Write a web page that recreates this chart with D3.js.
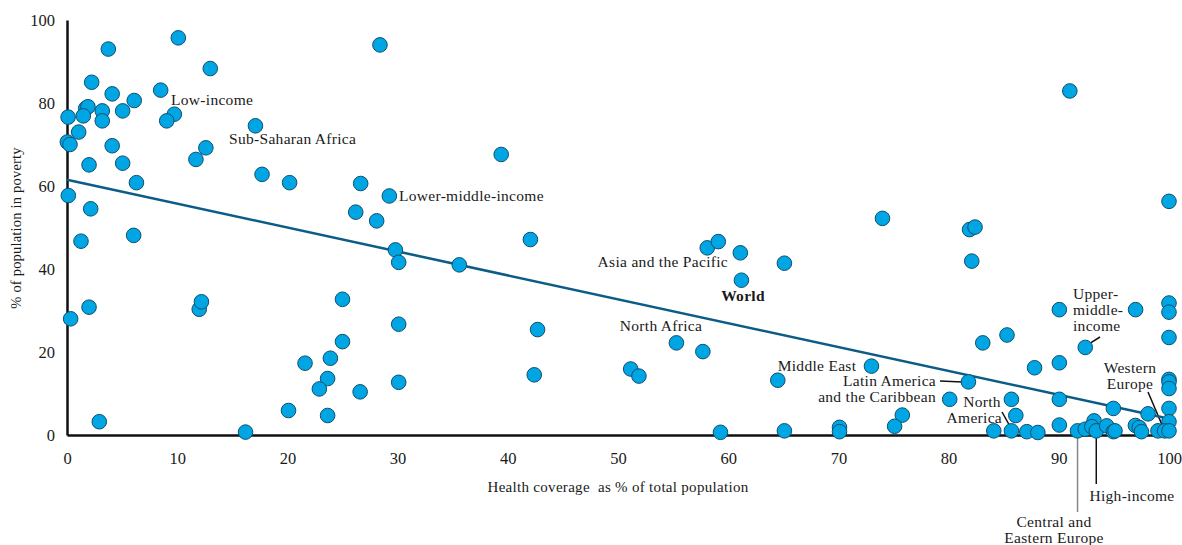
<!DOCTYPE html>
<html><head><meta charset="utf-8">
<script src="https://cdn.jsdelivr.net/npm/d3@7"></script>
<style>body{margin:0;background:#fff}svg{display:block}text{font-family:"Liberation Serif","DejaVu Serif",serif;fill:#1a1a1a}</style>
</head><body><svg id="c" width="1182" height="545"></svg>
<script>
const coverage = [10.1,3.75,13.0,2.24,8.5,4.1,6.1,1.7,1.9,3.2,5.05,0.1,1.48,3.2,9.74,9.05,17.1,1.06,0.03,0.27,4.1,12.6,11.7,2.0,5.05,6.3,17.7,20.2,0.12,2.15,
1.27,6.05,2.0,0.33,12.0,12.2,2.93,16.2,20.1,
28.4,26.65,29.25,26.2,28.1,39.4,42.05,29.8,30.1,35.6,25.0,30.1,42.7,25.0,23.9,21.6,23.65,22.9,26.6,30.1,42.4,23.65,
58.1,59.1,61.1,65.1,61.2,55.3,57.7,51.15,51.9,64.5,59.3,65.1,70.1,70.1,
74.0,81.9,82.4,82.1,100,90.05,96.97,100,100,100,92.4,85.3,83.1,87.8,90.05,73.0,81.8,100,100,100,100,80.1,85.7,90.05,86.1,75.8,75.1,94.95,98.1,90.05,93.2,100,
84.1,85.7,87.1,88.1,91.7,92.4,93.0,93.4,94.35,94.95,95.1,96.95,97.3,97.5,99.0,99.6,100,91.0];
const poverty = [95.7,93.0,88.3,85.0,83.1,82.2,80.6,78.7,79.1,78.1,78.1,76.6,76.9,75.7,77.3,75.7,74.5,73.0,70.6,70.0,69.7,69.2,66.4,65.1,65.5,60.8,62.8,60.8,57.7,54.5,
46.7,48.1,30.8,28.0,30.3,32.1,3.2,0.7,5.9,
94.0,60.6,57.6,53.7,51.6,67.6,47.1,44.6,41.6,41.0,32.7,26.7,25.4,22.5,18.5,17.3,13.6,11.1,10.4,12.7,14.5,4.7,
45.1,46.6,43.9,41.4,37.3,22.2,20.1,15.9,14.2,13.2,0.65,1.0,1.85,0.8,
52.2,49.5,50.1,41.9,56.3,30.2,30.2,31.8,29.6,23.5,21.1,24.1,22.2,16.2,17.4,16.6,12.8,13.4,12.8,11.2,6.4,8.6,8.6,8.6,4.7,4.8,2.1,6.4,5.1,2.4,3.4,3.2,
1.0,1.0,0.8,0.6,1.0,1.4,2.0,1.0,2.2,0.8,1.0,2.3,1.8,0.8,1.0,1.0,1.0,82.9];
const xTicks = [0,10,20,30,40,50,60,70,80,90,100];
const yTicks = [0,20,40,60,80,100];
const trendLine = [[0,61.5],[99.5,4.2]];
const labelText = [["Low-income"],["Sub-Saharan Africa"],["Lower-middle-income"],["Asia and the Pacific"],["World"],["North Africa"],["Middle East"],["Latin America","and the Caribbean"],["North","America"],["Upper-","middle-","income"],["Western","Europe"],["High-income"],["Central and","Eastern Europe"]];

const svg = d3.select("#c");
const x = d3.scaleLinear().domain([0,100]).range([67,1169]);
const y = d3.scaleLinear().domain([0,100]).range([435,20]);
const FF = '"Liberation Serif",serif';

const xAxis = svg.append("g").attr("transform","translate(0,435)")
  .call(d3.axisBottom(x).tickValues(xTicks).tickSize(0).tickPadding(17));
xAxis.select(".domain").attr("stroke","#111").attr("stroke-width",2.5);
xAxis.selectAll("text").attr("font-size",16.5).attr("fill","#1a1a1a").style("font-family",FF);
const yAxis = svg.append("g").attr("transform","translate(67,0)")
  .call(d3.axisLeft(y).tickValues(yTicks).tickSize(0).tickPadding(12));
yAxis.select(".domain").attr("stroke","#111").attr("stroke-width",2.5);
yAxis.selectAll("text").attr("font-size",16.5).attr("fill","#1a1a1a").style("font-family",FF);

svg.append("text").attr("x",618).attr("y",492).attr("text-anchor","middle").attr("font-size",15).attr("letter-spacing",0.3)
  .style("white-space","pre").text("Health coverage  as % of total population");
svg.append("text").attr("transform","translate(21,228) rotate(-90)").attr("text-anchor","middle").attr("font-size",14.5).attr("letter-spacing",0.2)
  .text("% of population in poverty");

const leaders = [
  {x1:940,y1:381,x2:x(81.8)-6,y2:y(12.8),c:"#111"},
  {x1:1002,y1:412,x2:x(85.7),y2:y(1.0)-2,c:"#111"},
  {x1:1100,y1:337,x2:x(92.4)+3,y2:y(21.1)-3,c:"#111"},
  {x1:1148,y1:392,x2:x(99.6),y2:y(1.0),c:"#111"},
  {x1:x(93.4),y1:y(1.0),x2:x(93.4),y2:484,c:"#111"},
  {x1:x(91.7),y1:y(1.0),x2:x(91.7),y2:512,c:"#888"}
];
svg.append("g").selectAll("line").data(leaders).join("line")
  .attr("x1",d=>d.x1).attr("y1",d=>d.y1).attr("x2",d=>d.x2).attr("y2",d=>d.y2)
  .attr("stroke",d=>d.c).attr("stroke-width",1.5);

svg.append("path").datum(trendLine).attr("fill","none").attr("stroke","#0b5c86").attr("stroke-width",2.5)
  .attr("d",d3.line().x(d=>x(d[0])).y(d=>y(d[1])));

svg.append("g").selectAll("circle").data(coverage.map((c,i)=>[c,poverty[i]])).join("circle")
  .attr("cx",d=>x(d[0])).attr("cy",d=>y(d[1])).attr("r",7.3)
  .attr("fill","#00a5e3").attr("stroke","#0f4f6e").attr("stroke-width",1);

const labelPos = [
  {x:171,y:105,a:"start"},{x:229,y:144,a:"start"},{x:399,y:201,a:"start"},{x:728,y:267,a:"end"},
  {x:743,y:301,a:"middle",w:"bold"},{x:661,y:331,a:"middle"},{x:817,y:371,a:"middle"},
  {x:936,y:386,a:"end"},{x:1002,y:407,a:"end",first:982},{x:1073,y:299,a:"start"},
  {x:1130,y:373,a:"middle"},{x:1132,y:501,a:"middle"},{x:1054,y:527,a:"middle"}
];
const lg = svg.append("g");
labelText.forEach((lines,i)=>{
  const p = labelPos[i];
  const t = lg.append("text").attr("font-size",15.5).attr("letter-spacing",0.3).attr("text-anchor",p.a).attr("font-weight",p.w||"normal");
  lines.forEach((ln,j)=>{
    t.append("tspan").attr("x", (p.first!==undefined && j===0)? p.first : p.x).attr("y",p.y+j*16)
     .attr("text-anchor",(p.first!==undefined && j===0)?"middle":p.a).text(ln);
  });
});
</script></body></html>
